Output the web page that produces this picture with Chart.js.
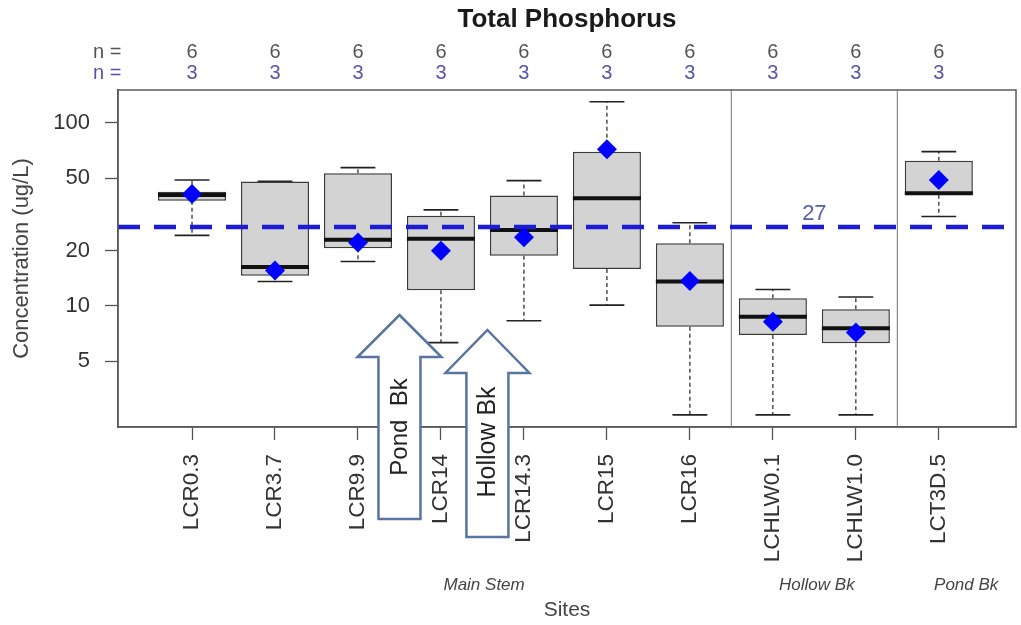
<!DOCTYPE html>
<html><head><meta charset="utf-8">
<script src="https://cdn.jsdelivr.net/npm/chart.js@4.4.1/dist/chart.umd.min.js"></script>
<style>html,body{margin:0;padding:0;background:#fff;}</style>
</head><body>
<canvas id="c" width="1021" height="625"></canvas>
<script>
// ---- data ----
const sites = ['LCR0.3','LCR3.7','LCR9.9','LCR14','LCR14.3','LCR15','LCR16','LCHLW0.1','LCHLW1.0','LCT3D.5'];
const nTotal = [6,6,6,6,6,6,6,6,6,6];
const nSub = [3,3,3,3,3,3,3,3,3,3];
const whiskerLow  = [24.3, 13.6, 17.5, 6.3, 8.3, 10.1, 2.54, 2.54, 2.54, 30.8];
const q1          = [37.6, 14.6, 20.7, 12.2, 18.8, 15.9, 7.7, 6.94, 6.25, 40.5];
const median      = [40.4, 16.3, 23.0, 23.3, 26.0, 38.8, 13.6, 8.74, 7.55, 41.3];
const q3          = [42.1, 47.8, 53.1, 31.1, 40.1, 69.7, 22.0, 11.0, 9.6, 62.2];
const whiskerHigh = [48.8, 48.0, 57.0, 33.5, 48.4, 130.7, 28.5, 12.3, 11.2, 69.7];
const means       = [40.9, 15.6, 22.2, 20.0, 23.7, 71.8, 13.7, 8.2, 7.15, 48.8];
const criterion = 27;
const yTickValues = [5, 10, 20, 50, 100];
const yTickLabels = ['5', '10', '20', '50', '100'];
const groupNames = ['Main Stem', 'Hollow Bk', 'Pond Bk'];
const groupBreaks = [7.5, 9.5];
const arrowTexts = ['Pond  Bk', 'Hollow Bk'];

// ---- layout / style constants ----
const FONT = '"Liberation Sans", Arial, Helvetica, sans-serif';
const X_MIN = 0.108, X_MAX = 10.93, Y_MIN = 2.18, Y_MAX = 151.4;
const groupLabelX = [4.52, 8.53, 10.33];
const arrowX = [3.5, 4.56];
const arrowGeom = [ {tip:315, base:357, bottom:519, textY:427, size:24},
                    {tip:330, base:373, bottom:537, textY:442, size:25} ];

const idx = sites.map((s, i) => i + 1);

const extras = {
  id: 'boxExtras',
  beforeDatasetsDraw(chart) {
    const {ctx, chartArea: a, scales: {x}} = chart;
    ctx.save();
    ctx.strokeStyle = '#8a8a8a'; ctx.lineWidth = 1.2;
    groupBreaks.forEach(b => {
      const px = x.getPixelForValue(b);
      ctx.beginPath(); ctx.moveTo(px, a.top); ctx.lineTo(px, a.bottom); ctx.stroke();
    });
    ctx.restore();
  },
  beforeDatasetDraw(chart, args) {
    if (args.index !== 0) return;
    const {ctx, scales: {x, y}} = chart;
    ctx.save();
    ctx.strokeStyle = '#222';
    idx.forEach((v, i) => {
      const px = x.getPixelForValue(v);
      const capHalf = (x.getPixelForValue(v + 0.21) - px);
      const segs = [[q3[i], whiskerHigh[i]], [q1[i], whiskerLow[i]]];
      segs.forEach(([from, to]) => {
        ctx.lineWidth = 1.2; ctx.setLineDash([4, 3]);
        ctx.beginPath(); ctx.moveTo(px, y.getPixelForValue(from)); ctx.lineTo(px, y.getPixelForValue(to)); ctx.stroke();
        ctx.setLineDash([]); ctx.lineWidth = 1.6;
        const yy = y.getPixelForValue(to);
        ctx.beginPath(); ctx.moveTo(px - capHalf, yy); ctx.lineTo(px + capHalf, yy); ctx.stroke();
      });
    });
    ctx.restore();
  },
  afterDatasetDraw(chart, args) {
    if (args.index !== 0) return;
    const {ctx, scales: {x, y}} = chart;
    const meta = chart.getDatasetMeta(0);
    ctx.save();
    ctx.strokeStyle = '#111'; ctx.lineWidth = 4;
    idx.forEach((v, i) => {
      const px = x.getPixelForValue(v);
      const half = meta.data[i].width / 2;
      const py = y.getPixelForValue(median[i]);
      ctx.beginPath(); ctx.moveTo(px - half, py); ctx.lineTo(px + half, py); ctx.stroke();
    });
    ctx.restore();
  },
  afterDraw(chart) {
    const {ctx, chartArea: a, scales: {x, y}} = chart;
    ctx.save();
    // frame
    ctx.strokeStyle = '#5a5a5a'; ctx.lineWidth = 1.5;
    ctx.strokeRect(a.left, a.top, a.right - a.left, a.bottom - a.top);
    // n rows
    ctx.font = '20px ' + FONT; ctx.textBaseline = 'middle';
    ctx.textAlign = 'left';
    ctx.fillStyle = '#555'; ctx.fillText('n =', 93, 52);
    ctx.fillStyle = '#5555aa'; ctx.fillText('n =', 93, 73);
    ctx.textAlign = 'center';
    idx.forEach((v, i) => {
      const px = x.getPixelForValue(v);
      ctx.fillStyle = '#555'; ctx.fillText(String(nTotal[i]), px, 52);
      ctx.fillStyle = '#5555aa'; ctx.fillText(String(nSub[i]), px, 73);
    });
    // criterion label
    ctx.font = '22px ' + FONT; ctx.fillStyle = '#5560a8';
    ctx.fillText(String(criterion), x.getPixelForValue(8.5), y.getPixelForValue(criterion) - 13);
    // group labels
    ctx.font = 'italic 17px ' + FONT; ctx.fillStyle = '#444';
    groupNames.forEach((g, i) => ctx.fillText(g, x.getPixelForValue(groupLabelX[i]), 585));
    // arrows
    arrowTexts.forEach((t, i) => {
      const g = arrowGeom[i];
      const cx = x.getPixelForValue(arrowX[i]);
      ctx.beginPath();
      ctx.moveTo(cx, g.tip);
      ctx.lineTo(cx + 42, g.base);
      ctx.lineTo(cx + 21, g.base);
      ctx.lineTo(cx + 21, g.bottom);
      ctx.lineTo(cx - 21, g.bottom);
      ctx.lineTo(cx - 21, g.base);
      ctx.lineTo(cx - 42, g.base);
      ctx.closePath();
      ctx.fillStyle = '#fff'; ctx.fill();
      ctx.strokeStyle = '#5874a0'; ctx.lineWidth = 2.5; ctx.lineJoin = 'miter'; ctx.stroke();
      ctx.save();
      ctx.translate(cx, g.textY); ctx.rotate(-Math.PI / 2);
      ctx.font = g.size + 'px ' + FONT; ctx.fillStyle = '#222';
      ctx.textAlign = 'center'; ctx.textBaseline = 'middle';
      ctx.fillText(t, 0, 1);
      ctx.restore();
    });
    ctx.restore();
  }
};

new Chart(document.getElementById('c'), {
  type: 'bar',
  data: {
    datasets: [
      {
        type: 'bar', order: 3,
        data: idx.map((v, i) => ({x: v, y: [q1[i], q3[i]]})),
        backgroundColor: '#d3d3d3', borderColor: '#3a3a3a', borderWidth: 1.5, borderSkipped: false,
        categoryPercentage: 1, barPercentage: 0.82
      },
      {
        type: 'line', order: 2,
        data: [{x: X_MIN, y: criterion}, {x: X_MAX, y: criterion}],
        borderColor: '#1c1cd4', borderWidth: 4.5, borderDash: [22, 14], pointRadius: 0, fill: false
      },
      {
        type: 'scatter', order: 1,
        data: idx.map((v, i) => ({x: v, y: means[i]})),
        pointStyle: 'rectRot', pointRadius: 10, backgroundColor: '#0000ff', borderColor: '#0000ff', borderWidth: 0
      }
    ]
  },
  options: {
    responsive: false, animation: false, devicePixelRatio: 1,
    layout: {autoPadding: false, padding: {left: 0, right: 5, top: 0, bottom: 0}},
    plugins: {
      legend: {display: false}, tooltip: {enabled: false},
      title: {display: true, text: 'Total Phosphorus', fullSize: false, color: '#1a1a1a',
              font: {family: FONT, size: 26, weight: 'bold'}, padding: {top: 4, bottom: 54.8}}
    },
    scales: {
      x: {
        type: 'linear', min: X_MIN, max: X_MAX, offset: false,
        afterBuildTicks: s => { s.ticks = idx.map(v => ({value: v})); },
        afterFit: s => { s.height = 198; s.paddingLeft = 0; s.paddingRight = 0; },
        ticks: {autoSkip: false, minRotation: 90, maxRotation: 90, padding: 14, color: '#333',
                font: {family: FONT, size: 22.5}, callback: v => sites[v - 1]},
        grid: {display: true, offset: false, drawOnChartArea: false, tickLength: 13, color: '#555', tickWidth: 1.3},
        border: {display: true, color: '#5a5a5a', width: 1.5},
        title: {display: true, text: 'Sites', color: '#444', font: {family: FONT, size: 21}, padding: {top: 0, bottom: 2.4}}
      },
      y: {
        type: 'logarithmic', min: Y_MIN, max: Y_MAX, position: 'left',
        afterBuildTicks: s => { s.ticks = yTickValues.map(v => ({value: v})); },
        afterFit: s => { s.width = 118; s.paddingTop = 0; s.paddingBottom = 0; },
        ticks: {padding: 15, color: '#333', font: {family: FONT, size: 22},
                callback: v => yTickLabels[yTickValues.indexOf(v)]},
        grid: {display: true, drawOnChartArea: false, tickLength: 13, color: '#555', tickWidth: 1.3},
        border: {display: true, color: '#5a5a5a', width: 1.5},
        title: {display: true, text: 'Concentration (ug/L)', color: '#444', font: {family: FONT, size: 22}, padding: {top: 8.8, bottom: 0}}
      }
    }
  },
  plugins: [extras]
});
</script>
</body></html>
